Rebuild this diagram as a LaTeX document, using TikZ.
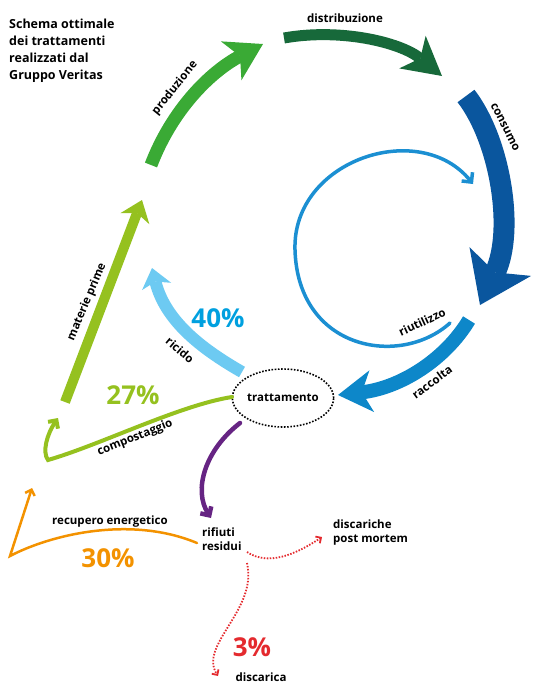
\documentclass[tikz,border=0pt]{standalone}
\usepackage{fontspec}
\setmainfont{Open Sans}
\usetikzlibrary{arrows.meta, shapes.geometric}

\definecolor{prodgreen}{HTML}{3AAA35}
\definecolor{distgreen}{HTML}{17693A}
\definecolor{consblue}{HTML}{0A569E}
\definecolor{raccblue}{HTML}{0D87C9}
\definecolor{riutblue}{HTML}{1B8FD2}
\definecolor{ricblue}{HTML}{6DCAF2}
\definecolor{pctblue}{HTML}{00A0DF}
\definecolor{compgreen}{HTML}{95C11F}
\definecolor{viola}{HTML}{662483}
\definecolor{arancio}{HTML}{F39200}
\definecolor{rosso}{HTML}{E42A2E}

\tikzset{
  lbl/.style={font=\bfseries\fontsize{11.5}{14}\selectfont, inner sep=0pt},
  pct/.style={font=\bfseries\fontsize{26}{28}\selectfont, inner sep=0pt},
  flowline/.style={line width=#1, line cap=round},
  barb/.style={-{Straight Barb[length=#1, width=2*#1]}},
  reddots/.style={rosso, line width=1.8pt, dash pattern=on 1.5pt off 1.5pt, -{Straight Barb[length=4pt, width=8pt]}}
}

\begin{document}
\begin{tikzpicture}[x=1pt, y=-1pt]
\useasboundingbox (0,0) rectangle (534,683);

\node[lbl, font=\bfseries\fontsize{12.5}{17}\selectfont, align=left, anchor=north west] (title) at (9,19)
  {Schema ottimale\\dei trattamenti\\realizzati dal\\Gruppo Veritas};

% main cycle
\coordinate (prodA) at (151,165);
\coordinate (prodB) at (263,44);
\coordinate (distA) at (284,38);
\coordinate (distB) at (442,76);
\coordinate (consA) at (466,96);
\coordinate (consB) at (480,305);
\coordinate (raccA) at (469,320);
\coordinate (raccB) at (338,395);

\draw[prodgreen, line width=13pt, -{Stealth[length=36pt, width=44pt, inset=10pt, line width=0pt]}]
  (prodA) .. controls (172,110) and (210,72) .. (prodB);
\draw[distgreen, line width=11pt, -{Stealth[length=38pt, width=42pt, inset=10pt, line width=0pt]}]
  (distA) .. controls (340,28) and (400,42) .. (distB);
\draw[consblue, line width=21pt, -{Stealth[length=48pt, width=68pt, inset=12pt, line width=0pt]}]
  (consA) .. controls (500,140) and (515,230) .. (consB);
\draw[raccblue, line width=14pt, -{Stealth[length=34pt, width=42pt, inset=10pt, line width=0pt]}]
  (raccA) .. controls (445,360) and (400,388) .. (raccB);

\node[lbl, rotate=51] (lprod) at (175,88) {produzione};
\node[lbl] (ldist) at (345,18) {distribuzione};
\node[lbl, rotate=-63] (lcons) at (505,127) {consumo};
\node[lbl, rotate=36] (lracc) at (432,382) {raccolta};

% riutilizzo
\coordinate (riuA) at (450,323);
\coordinate (riuM) at (295,250);
\coordinate (riuB) at (473,184);
\draw[riutblue, flowline=3.5pt, barb=7pt]
  (riuA) .. controls (400,368) and (298,350) .. (riuM) .. controls (292,160) and (420,118) .. (riuB);
\node[lbl, rotate=25] (lriut) at (422,322) {riutilizzo};

% trattamento
\node[draw, ellipse, line width=1.6pt, dash pattern=on 1.6pt off 1.6pt, minimum width=94pt, minimum height=58pt, inner sep=0pt, lbl] (tratt) at (283,398) {trattamento};

% ricido
\coordinate (ricA) at (242,372);
\coordinate (ricB) at (152,268);
\draw[ricblue, line width=12pt, -{Stealth[length=19pt, width=30pt, inset=5pt, line width=0pt]}]
  (ricA) .. controls (200,348) and (165,320) .. (ricB);
\node[pct, text=pctblue] (p40) at (218,318) {40\%};
\node[lbl, rotate=-40] (lric) at (180,350) {ricido};

% materie prime
\coordinate (matA) at (65,402);
\coordinate (matB) at (142,200);
\draw[compgreen, line width=10pt, -{Stealth[length=20pt, width=31pt, inset=6pt, line width=0pt]}] (matA) -- (matB);
\node[lbl, rotate=67] (lmat) at (87,302) {materie prime};

% compostaggio
\coordinate (compA) at (232,397);
\coordinate (compB) at (58,418);
\draw[compgreen, flowline=4pt, barb=6pt]
  (compA) .. controls (180,405) and (100,445) .. (48,460) .. controls (42,452) and (47,434) .. (compB);
\node[pct, text=compgreen] (p27) at (133,395) {27\%};
\node[lbl, rotate=22] (lcomp) at (135,438) {compostaggio};

% rifiuti residui
\coordinate (purA) at (240,423);
\coordinate (purB) at (211,518);
\draw[viola, flowline=4.5pt, barb=6.5pt] (purA) .. controls (205,450) and (193,490) .. (purB);
\node[lbl, align=left, anchor=north west] (rifiuti) at (202,527) {rifiuti\\residui};

% recupero energetico
\coordinate (oraA) at (197,543);
\coordinate (oraB) at (32,488);
\draw[arancio, flowline=2.5pt, barb=5pt] (oraA) .. controls (130,515) and (50,535) .. (10,556) -- (oraB);
\node[lbl] (lrec) at (110,522) {recupero energetico};
\node[pct, text=arancio] (p30) at (108,558) {30\%};

% discariche
\coordinate (redA) at (247,552);
\coordinate (redB) at (322,537);
\coordinate (redC) at (247,563);
\coordinate (redD) at (218,676);
\draw[reddots] (redA) .. controls (268,566) and (295,555) .. (redB);
\draw[reddots] (redC) .. controls (258,610) and (198,645) .. (redD);
\node[lbl, align=left, anchor=north west] (ldisc) at (333,520) {discariche\\post mortem};
\node[pct, text=rosso] (p3) at (252,647) {3\%};
\node[lbl, anchor=base] (ldisca) at (261,681) {discarica};
\end{tikzpicture}
\end{document}
